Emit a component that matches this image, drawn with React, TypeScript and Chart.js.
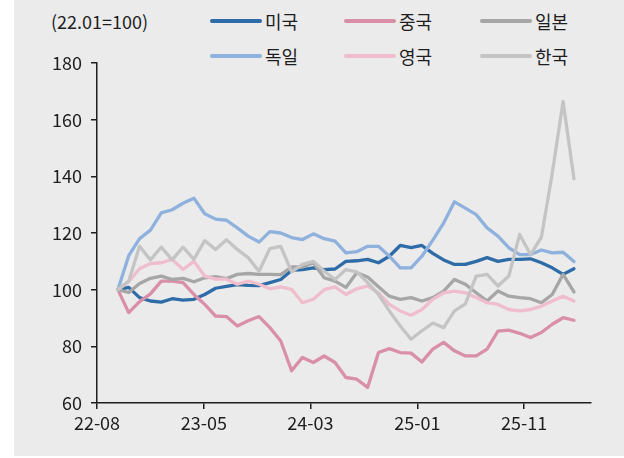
import React, { useEffect, useRef } from "react";
import { Chart, registerables } from "chart.js";

Chart.register(...registerables);

// ---- data ----
const xTickLabels = ["22-08", "23-05", "24-03", "25-01", "25-11"];
const xTickPositions = [-1.92, 7.93, 17.73, 27.59, 37.42];
const yTickValues = [60, 80, 100, 120, 140, 160, 180];

const seriesNames = ["미국", "중국", "일본", "독일", "영국", "한국"];
const seriesColors = ["#2e6ca8", "#d98fa8", "#a6a6a6", "#8fb1dd", "#efbdcc", "#c4c4c4"];

const usa = [100, 100.8, 97.2, 96, 95.6, 96.8, 96.3, 96.6, 98.3, 100.5, 101.2, 101.8, 101.5, 101.4, 102.5, 103.6, 106.8, 107.1, 107.7, 107.1, 107.3, 110, 110.2, 110.7, 109.5, 111.8, 115.6, 114.8, 115.6, 112.8, 110.5, 108.9, 108.9, 110, 111.3, 110, 110.7, 110.7, 110.9, 109.5, 107.7, 105.4, 107.4];
const china = [100, 91.9, 95.8, 98.5, 103, 103, 102.5, 98.3, 94.8, 90.7, 90.5, 87.2, 89, 90.5, 86.6, 81.9, 71.4, 76.1, 74.3, 76.6, 74.3, 69, 68.4, 65.5, 77.8, 79.2, 77.8, 77.6, 74.5, 79, 81.4, 78.4, 76.6, 76.6, 79, 85.4, 85.7, 84.6, 83.1, 84.9, 87.8, 90.1, 89.2];
const japan = [100, 99, 102.2, 104, 104.8, 103.6, 104, 102.8, 104.2, 104.6, 103.9, 105.4, 105.7, 105.4, 105.4, 105.3, 108, 108, 109.5, 104.2, 103, 100.8, 106, 104.5, 101, 97.7, 96.6, 97.2, 96, 97.2, 99.5, 103.6, 101.9, 98.9, 96, 99.5, 97.7, 97.2, 96.8, 95.4, 98.3, 105.4, 99.2];
const germany = [100, 112, 118, 121, 127.1, 128.2, 130.5, 132.3, 126.8, 124.9, 124.5, 121.8, 118.9, 116.8, 120.5, 120, 118.4, 117.7, 119.7, 118, 117.1, 113, 113.4, 115.3, 115.3, 111.8, 107.7, 107.7, 111.8, 117.5, 123.5, 131, 128.8, 126.5, 121.8, 118.9, 114.8, 112.4, 112.4, 114, 113, 113.2, 109.9];
const uk = [100, 102.8, 107.4, 109.2, 109.5, 110.7, 107.1, 110, 104.8, 103.7, 103.7, 101.9, 103, 101.9, 100.3, 101, 100.1, 95.4, 96.6, 100, 101, 98.3, 100.3, 101.3, 98.9, 94.8, 92.5, 91, 93, 96.6, 98.9, 99.5, 98.9, 97.2, 95.4, 94.8, 93, 92.5, 93, 94.2, 96, 97.7, 96];
const korea = [100, 103, 115.3, 110.5, 115, 110.5, 115, 110.7, 117.3, 114.2, 117.6, 114.2, 111.3, 106.5, 114.5, 115.3, 106.3, 108.9, 110, 106.5, 103.6, 107.1, 106.3, 102.5, 98.3, 92.5, 87.2, 82.5, 85.5, 88.2, 86.6, 92.5, 95, 104.8, 105.4, 101.3, 104.8, 119.5, 112.4, 118.5, 141, 166.4, 139.1];

const seriesValues = [usa, china, japan, germany, uk, korea];
const unitNote = "(22.01=100)";

const FONT = "'Noto Sans CJK KR', 'Noto Sans', sans-serif";
const TEXT = "#1e1e1e";

export default function App() {
  const ref = useRef<HTMLCanvasElement | null>(null);

  useEffect(() => {
    document.body.style.margin = "0";
    const canvas = ref.current;
    if (!canvas) return;
    const datasets = seriesValues.map((vals, i) => ({
      label: seriesNames[i],
      data: vals.map((v, k) => ({ x: k, y: v })),
      borderColor: seriesColors[i],
      backgroundColor: seriesColors[i],
      borderWidth: 3.3,
      pointRadius: 0,
      tension: 0,
      fill: false,
      borderJoinStyle: "round" as const,
      borderCapStyle: "round" as const,
      order: seriesValues.length - 1 - i,
    }));
    const axisColor = "#1e1e1e";
    const chart = new Chart(canvas, {
      type: "line",
      data: { datasets },
      options: {
        animation: false,
        responsive: false,
        maintainAspectRatio: false,
        layout: { padding: { left: 0, top: 63, right: 33, bottom: 15 } },
        plugins: { legend: { display: false }, tooltip: { enabled: false } },
        scales: {
          x: {
            type: "linear",
            min: -1.92,
            max: 43.57,
            afterBuildTicks: (s: any) => {
              s.ticks = xTickPositions.map((v) => ({ value: v }));
            },
            afterFit: (s: any) => {
              s.height = 40;
            },
            ticks: {
              autoSkip: false,
              maxRotation: 0,
              padding: 3,
              color: TEXT,
              font: { family: FONT, size: 18 },
              callback: (_v: any, idx: number) => xTickLabels[idx],
            },
            grid: { drawOnChartArea: false, drawTicks: true, tickLength: 6, color: axisColor, lineWidth: 1.5 },
            border: { display: true, color: axisColor, width: 1.5 },
          },
          y: {
            min: 60,
            max: 180,
            afterBuildTicks: (s: any) => {
              s.ticks = yTickValues.map((v) => ({ value: v }));
            },
            afterFit: (s: any) => {
              s.width = 97;
            },
            ticks: {
              padding: 9,
              color: TEXT,
              font: { family: FONT, size: 18 },
            },
            grid: { drawOnChartArea: false, drawTicks: true, tickLength: 6, color: axisColor, lineWidth: 1.5 },
            border: { display: true, color: axisColor, width: 1.5 },
          },
        },
      },
    });
    return () => chart.destroy();
  }, []);

  const legendCols = [210, 344, 480];
  const legendRows = [21, 56];

  return (
    <div style={{ position: "relative", width: 624, height: 458, background: "#fff", overflow: "hidden" }}>
      <div style={{ position: "absolute", left: 14, top: 0, right: 0, bottom: 2, background: "#ebebeb" }} />
      <div
        style={{
          position: "absolute",
          left: 51,
          top: legendRows[0] - 12,
          height: 24,
          lineHeight: "24px",
          fontFamily: FONT,
          fontSize: 18,
          color: TEXT,
          whiteSpace: "nowrap",
        }}
      >
        {unitNote}
      </div>
      {seriesNames.map((name, i) => {
        const col = i % 3;
        const row = Math.floor(i / 3);
        const x = legendCols[col];
        const y = legendRows[row];
        return (
          <React.Fragment key={name}>
            <div
              style={{
                position: "absolute",
                left: x,
                top: y - 2,
                width: 52,
                height: 4,
                borderRadius: 2,
                background: seriesColors[i],
              }}
            />
            <div
              style={{
                position: "absolute",
                left: x + 55,
                top: y - 12,
                height: 24,
                lineHeight: "24px",
                fontFamily: FONT,
                fontSize: 18,
                color: TEXT,
                whiteSpace: "nowrap",
              }}
            >
              {name}
            </div>
          </React.Fragment>
        );
      })}
      <canvas ref={ref} width={624} height={458} style={{ position: "absolute", left: 0, top: 0 }} />
    </div>
  );
}
